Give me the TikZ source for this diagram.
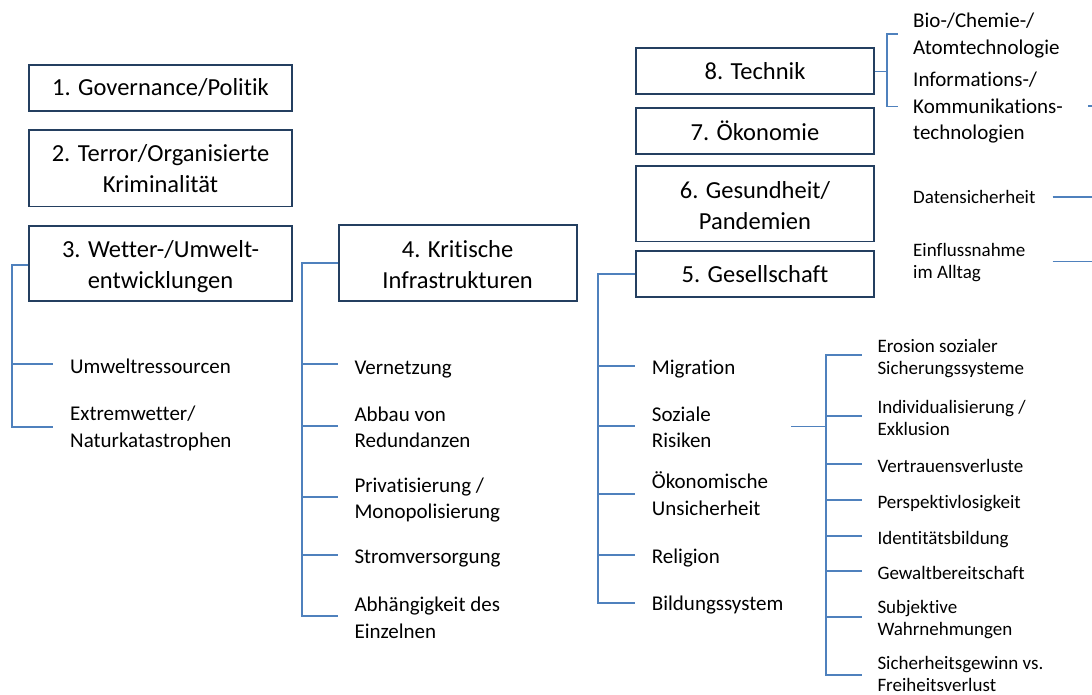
\documentclass[tikz,border=0pt]{standalone}
\usepackage{fontspec}
\setmainfont{Carlito}[Ligatures=NoCommon]
\definecolor{boxc}{HTML}{243F60}
\definecolor{linec}{HTML}{4F81BD}
\begin{document}
\begin{tikzpicture}[x=1pt,y=-1pt,
  box/.style={draw=boxc, line width=1.8pt, align=center, inner sep=0pt, font=\fontsize{24.5}{31}\selectfont},
  wbox/.style={box, minimum width=263pt},
  nbox/.style={box, minimum width=238pt},
  med/.style={anchor=west, align=left, inner sep=0pt, font=\fontsize{21}{26.5}\selectfont,
    execute at begin node=\strut, execute at end node=\strut},
  sml/.style={anchor=west, align=left, inner sep=0pt, font=\fontsize{19}{21.7}\selectfont,
    execute at begin node=\strut, execute at end node=\strut},
  conn/.style={draw=linec, line width=1.8pt}]
\fill[white] (0,0) rectangle (1092,695);
\useasboundingbox (0,0) rectangle (1092,695);

% boxes
\node[wbox, minimum height=46pt]   (b1) at (160.5,88)    {1. Governance/Politik};
\node[wbox, minimum height=76.5pt] (b2) at (160.5,168.2) {\rule{0pt}{18pt}2. Terror/Organisierte\\Kriminalität};
\node[wbox, minimum height=75pt]   (b3) at (160.5,263.5) {\rule{0pt}{23pt}3. Wetter-/Umwelt-\\entwicklungen};
\node[nbox, minimum height=75.5pt] (b4) at (457.6,263)   {\rule{0pt}{20pt}4. Kritische\\Infrastrukturen};
\node[nbox, minimum height=45.7pt] (b8) at (755,71.2)    {8. Technik};
\node[nbox, minimum height=45.5pt] (b7) at (755,131)     {7. Ökonomie};
\node[nbox, minimum height=75.5pt] (b6) at (755,203.7)   {\rule{0pt}{20pt}6. Gesundheit/\\Pandemien};
\node[nbox, minimum height=45.8pt] (b5) at (755,273.8)   {5. Gesellschaft};

% tree 3
\coordinate (j3) at (12,265);
\node[med] (u1) at (70,368.5) {Umweltressourcen};
\node[med] (u2) at (70,430.5) {Extremwetter/\\Naturkatastrophen};
\coordinate (u1e) at ([xshift=-17.3pt]u1.west |- 0,364.3);
\coordinate (u2e) at ([xshift=-17.3pt]u2.west |- 0,426.7);
\draw[conn] (b3.west |- j3) -- (j3) |- (u2e);
\draw[conn] (j3 |- u1e) -- (u1e);

% tree 4
\coordinate (j4) at (301.7,263.3);
\node[med] (k1) at (354.3,369)   {Vernetzung};
\node[med] (k2) at (354.3,431)   {Abbau von\\Redundanzen};
\node[med] (k3) at (354.3,502)   {Privatisierung /\\Monopolisierung};
\node[med] (k4) at (354.3,558.5) {Stromversorgung};
\node[med] (k5) at (354.3,621.5) {Abhängigkeit des\\Einzelnen};
\coordinate (k1e) at ([xshift=-16pt]k1.west |- 0,364.3);
\coordinate (k2e) at ([xshift=-16pt]k2.west |- 0,426);
\coordinate (k3e) at ([xshift=-16pt]k3.west |- 0,496.7);
\coordinate (k4e) at ([xshift=-16pt]k4.west |- 0,555);
\coordinate (k5e) at ([xshift=-16pt]k5.west |- 0,616);
\draw[conn] (b4.west |- j4) -- (j4) |- (k5e);
\foreach \n in {k1,k2,k3,k4}
  \draw[conn] (j4 |- \n e) -- (\n e);

% tree 5
\coordinate (j5) at (598.3,273.6);
\node[med] (g1) at (651.7,369)   {Migration};
\node[med] (g2) at (651.7,431)   {Soziale\\Risiken};
\node[med] (g3) at (651.7,497.5) {Ökonomische\\Unsicherheit};
\node[med] (g4) at (651.7,558)   {Religion};
\node[med] (g5) at (651.7,605.5) {Bildungssystem};
\coordinate (g1e) at ([xshift=-16.7pt]g1.west |- 0,366);
\coordinate (g2e) at ([xshift=-16.7pt]g2.west |- 0,426);
\coordinate (g3e) at ([xshift=-16.7pt]g3.west |- 0,494);
\coordinate (g4e) at ([xshift=-16.7pt]g4.west |- 0,555);
\coordinate (g5e) at ([xshift=-16.7pt]g5.west |- 0,602.7);
\draw[conn] (b5.west |- j5) -- (j5) |- (g5e);
\foreach \n in {g1,g2,g3,g4}
  \draw[conn] (j5 |- \n e) -- (\n e);

% subtree Soziale Risiken
\coordinate (js) at (826,426.5);
\coordinate (s0) at (791,426.5);
\node[sml] (r1) at (877.3,360)   {Erosion sozialer\\Sicherungssysteme};
\node[sml] (r2) at (877.3,421.5) {Individualisierung /\\Exklusion};
\node[sml] (r3) at (877.3,468)   {Vertrauensverluste};
\node[sml] (r4) at (877.3,504.5) {Perspektivlosigkeit};
\node[sml] (r5) at (877.3,540)   {Identitätsbildung};
\node[sml] (r6) at (877.3,575)   {Gewaltbereitschaft};
\node[sml] (r7) at (877.3,621.5) {Subjektive\\Wahrnehmungen};
\node[sml] (r8) at (877.3,677.5) {Sicherheitsgewinn vs.\\Freiheitsverlust};
\coordinate (r1e) at ([xshift=-15.6pt]r1.west |- 0,355);
\coordinate (r2e) at ([xshift=-15.6pt]r2.west |- 0,416);
\coordinate (r3e) at ([xshift=-15.6pt]r3.west |- 0,464.3);
\coordinate (r4e) at ([xshift=-15.6pt]r4.west |- 0,500);
\coordinate (r5e) at ([xshift=-15.6pt]r5.west |- 0,535.7);
\coordinate (r6e) at ([xshift=-15.6pt]r6.west |- 0,570.7);
\coordinate (r7e) at ([xshift=-15.6pt]r7.west |- 0,616.7);
\coordinate (r8e) at ([xshift=-15.6pt]r8.west |- 0,675);
\draw[conn] (s0) -- (js);
\draw[conn] (r1e) -| (js |- r8e) -- (r8e);
\foreach \n in {r2,r3,r4,r5,r6,r7}
  \draw[conn] (js |- \n e) -- (\n e);

% Technik bracket
\coordinate (jt) at (886.7,71.5);
\node[med] (t1) at (913,37.5)  {Bio-/Chemie-/\\Atomtechnologie};
\node[med] (t2) at (913,110)   {Informations-/\\Kommunikations-\\technologien};
\coordinate (t1e) at ([xshift=-15.5pt]t1.west |- 0,33.8);
\coordinate (t2e) at ([xshift=-15.5pt]t2.west |- 0,106.5);
\draw[conn] (b8.east |- jt) -- (jt);
\draw[conn] (t1e) -| (jt |- t2e) -- (t2e);

% right side
\node[sml] (d1) at (913,199)   {Datensicherheit};
\node[sml] (d2) at (913,264)   {Einflussnahme\\im Alltag};
\coordinate (e0a) at (1088,106); \coordinate (e0b) at (1092,106);
\coordinate (e1a) at (1052.7,197); \coordinate (e1b) at (1092,197);
\coordinate (e2a) at (1052.7,261.5); \coordinate (e2b) at (1092,261.5);
\draw[conn] (e0a) -- (e0b);
\draw[conn] (e1a) -- (e1b);
\draw[conn] (e2a) -- (e2b);
\end{tikzpicture}
\end{document}
